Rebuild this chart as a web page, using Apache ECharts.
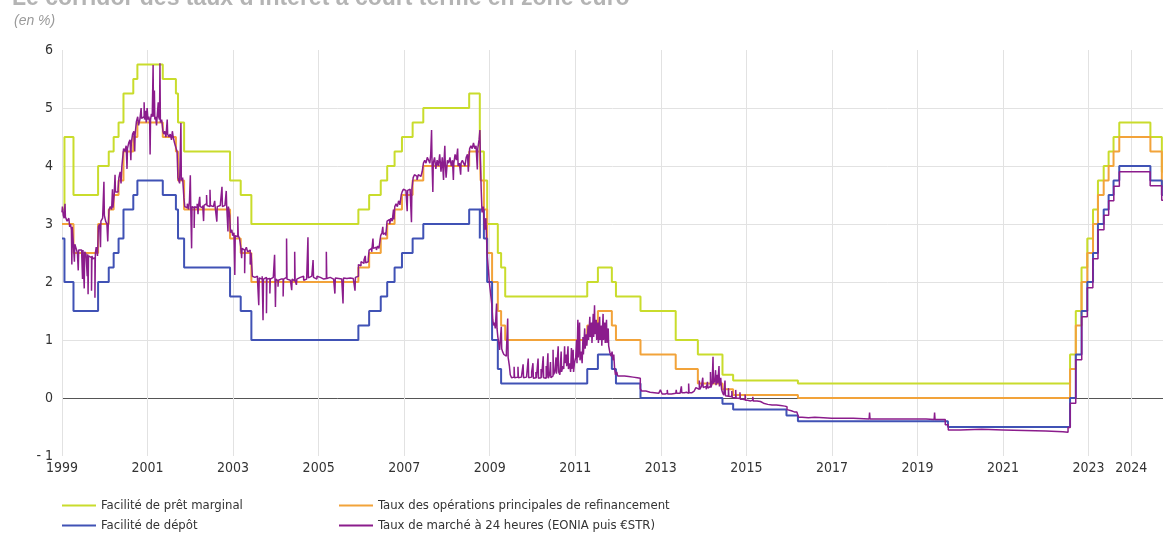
<!DOCTYPE html>
<html>
<head>
<meta charset="utf-8">
<script src="https://cdn.jsdelivr.net/npm/echarts@6/dist/echarts.min.js"></script>
<style>
html,body{margin:0;padding:0;background:#fff;}
#chart{width:1163px;height:535px;}
</style>
</head>
<body>
<div id="chart"></div>
<script>
// ---- Data ----
const titleText = "Le corridor des taux d'intérêt à court terme en zone euro";
const unitText = "(en %)";
const seriesNames = [
  "Facilité de prêt marginal",
  "Taux des opérations principales de refinancement",
  "Facilité de dépôt",
  "Taux de marché à 24 heures (EONIA puis €STR)"
];
const yearTicks = [1999,2001,2003,2005,2007,2009,2011,2013,2015,2017,2019,2021,2023,2024];

// Policy-rate change dates and levels (in %)
const policyDates = [
 '1999-01-01','1999-01-22','1999-04-09','1999-11-05','2000-02-04','2000-03-17','2000-04-28','2000-06-09',
 '2000-09-01','2000-10-06','2001-05-11','2001-08-31','2001-09-18','2001-11-09','2002-12-06','2003-03-07',
 '2003-06-06','2005-12-06','2006-03-08','2006-06-15','2006-08-09','2006-10-11','2006-12-13','2007-03-14',
 '2007-06-13','2008-07-09','2008-10-08','2008-10-09','2008-10-15','2008-11-12','2008-12-10','2009-01-21',
 '2009-03-11','2009-04-08','2009-05-13','2011-04-13','2011-07-13','2011-11-09','2011-12-14','2012-07-11',
 '2013-05-08','2013-11-13','2014-06-11','2014-09-10','2015-12-09','2016-03-16','2019-09-18','2022-07-27',
 '2022-09-14','2022-11-02','2022-12-21','2023-02-08','2023-03-22','2023-05-10','2023-06-21','2023-08-02',
 '2023-09-20','2024-06-12','2024-09-18','2024-09-27'
];
const marginalRate = [
 3.25,4.50,3.50,4.00,4.25,4.50,4.75,5.25,
 5.50,5.75,5.50,5.25,4.75,4.25,3.75,3.50,
 3.00,3.25,3.50,3.75,4.00,4.25,4.50,4.75,
 5.00,5.25,4.75,4.25,4.25,3.75,3.00,3.00,
 2.50,2.25,1.75,2.00,2.25,2.00,1.75,1.50,
 1.00,0.75,0.40,0.30,0.30,0.25,0.25,0.75,
 1.50,2.25,2.75,3.25,3.75,4.00,4.25,4.50,
 4.75,4.50,3.90,3.90
];
const mainRefiRate = [
 3.00,3.00,2.50,3.00,3.25,3.50,3.75,4.25,
 4.50,4.75,4.50,4.25,3.75,3.25,2.75,2.50,
 2.00,2.25,2.50,2.75,3.00,3.25,3.50,3.75,
 4.00,4.25,4.25,4.25,3.75,3.25,2.50,2.00,
 1.50,1.25,1.00,1.25,1.50,1.25,1.00,0.75,
 0.50,0.25,0.15,0.05,0.05,0.00,0.00,0.50,
 1.25,2.00,2.50,3.00,3.50,3.75,4.00,4.25,
 4.50,4.25,3.65,3.65
];
const depositRate = [
 2.75,2.00,1.50,2.00,2.25,2.50,2.75,3.25,
 3.50,3.75,3.50,3.25,2.75,2.25,1.75,1.50,
 1.00,1.25,1.50,1.75,2.00,2.25,2.50,2.75,
 3.00,3.25,2.75,3.25,3.25,2.75,2.00,1.00,
 0.50,0.25,0.25,0.50,0.75,0.50,0.25,0.00,
 0.00,0.00,-0.10,-0.20,-0.30,-0.40,-0.50,0.00,
 0.75,1.50,2.00,2.50,3.00,3.25,3.50,3.75,
 4.00,3.75,3.50,3.50
];

// Overnight market rate [decimal year, %]
const overnight1999_2003 = [
 [1999.00,3.20],[1999.01,3.30],[1999.03,3.15],[1999.05,3.10],[1999.07,3.35],[1999.08,3.12],[1999.12,3.05],[1999.16,3.10],[1999.18,2.95],[1999.20,3.00],[1999.22,2.90],[1999.23,2.30],[1999.24,2.95],[1999.27,2.60],[1999.29,2.35],[1999.30,2.65],[1999.33,2.58],[1999.36,2.50],[1999.38,2.20],[1999.39,2.55],[1999.42,2.55],[1999.46,2.50],[1999.48,2.05],[1999.49,2.55],[1999.52,1.89],[1999.53,2.52],[1999.56,2.48],[1999.59,2.10],[1999.60,2.48],[1999.61,1.79],[1999.62,2.45],[1999.65,2.42],[1999.69,1.85],[1999.70,2.45],[1999.72,2.40],[1999.74,2.42],[1999.77,1.73],[1999.78,2.50],[1999.80,2.60],[1999.83,2.45],[1999.85,2.95],[1999.88,3.00],[1999.90,2.60],[1999.91,3.05],[1999.95,3.10],[1999.98,3.73],[1999.99,3.15],
 [2000.02,3.05],[2000.05,3.00],[2000.07,2.70],[2000.08,2.95],[2000.10,3.25],[2000.13,3.30],[2000.16,3.25],[2000.18,3.60],[2000.19,3.28],[2000.22,3.50],[2000.24,3.85],[2000.25,3.55],[2000.28,3.55],[2000.31,3.60],[2000.33,3.80],[2000.36,3.90],[2000.38,3.70],[2000.40,4.00],[2000.42,4.00],[2000.44,4.30],[2000.47,4.25],[2000.50,4.35],[2000.52,3.95],[2000.53,4.30],[2000.56,4.40],[2000.59,4.45],[2000.61,4.10],[2000.62,4.40],[2000.65,4.55],[2000.68,4.60],[2000.70,4.25],[2000.71,4.55],[2000.74,4.77],[2000.77,4.85],[2000.79,4.70],[2000.82,4.80],[2000.85,5.00],[2000.86,4.82],[2000.89,4.85],[2000.92,5.10],[2000.93,4.80],[2000.95,4.95],[2000.97,4.75],[2000.99,5.00],
 [2001.01,4.80],[2001.03,4.85],[2001.05,4.75],[2001.06,4.20],[2001.07,4.80],[2001.09,4.90],[2001.11,4.85],[2001.13,5.74],[2001.14,4.85],[2001.16,5.30],[2001.17,4.80],[2001.19,4.85],[2001.21,4.70],[2001.23,4.90],[2001.25,5.10],[2001.26,4.85],[2001.28,4.80],[2001.29,5.77],[2001.30,4.75],[2001.33,4.80],[2001.36,4.60],[2001.38,4.55],[2001.40,4.60],[2001.43,4.50],[2001.46,4.80],[2001.47,4.55],[2001.50,4.50],[2001.53,4.55],[2001.56,4.45],[2001.58,4.60],[2001.60,4.50],[2001.63,4.40],[2001.65,4.35],[2001.67,4.30],[2001.69,4.25],[2001.71,3.80],[2001.73,3.75],[2001.75,3.70],[2001.78,4.74],[2001.79,3.75],[2001.82,3.80],[2001.85,3.45],[2001.87,3.30],[2001.90,3.28],[2001.93,3.35],[2001.96,3.25],[2001.98,3.40],
 [2002.00,3.84],[2002.01,3.30],[2002.03,2.58],[2002.04,3.30],[2002.07,3.28],[2002.09,2.93],[2002.10,3.30],[2002.13,3.28],[2002.16,3.35],[2002.18,3.17],[2002.19,3.30],[2002.22,3.47],[2002.23,3.30],[2002.26,3.28],[2002.29,3.32],[2002.31,3.05],[2002.32,3.32],[2002.35,3.35],[2002.38,3.50],[2002.39,3.32],[2002.42,3.30],[2002.46,3.59],[2002.47,3.32],[2002.50,3.30],[2002.54,3.28],[2002.57,3.40],[2002.58,3.30],[2002.62,3.04],[2002.63,3.30],[2002.66,3.32],[2002.70,3.30],[2002.74,3.64],[2002.75,3.30],[2002.78,3.32],[2002.81,3.35],[2002.84,3.57],[2002.85,3.32],[2002.88,2.87],[2002.89,3.30],[2002.92,3.15],[2002.94,2.85],[2002.97,2.90],[2002.99,2.80],
 [2003.02,2.85],[2003.04,2.12],[2003.05,2.80],[2003.08,2.78],[2003.11,3.13],[2003.12,2.80],[2003.15,2.75],[2003.18,2.60],[2003.20,2.41],[2003.21,2.58],[2003.24,2.55],[2003.27,2.15],[2003.28,2.55],[2003.31,2.60],[2003.34,2.52],[2003.37,2.55],[2003.40,2.30],[2003.42,2.50],[2003.45,2.10],[2003.48,2.08],[2003.51,2.05],[2003.54,2.10],[2003.57,2.05],[2003.60,1.60],[2003.61,2.07],[2003.64,2.05],[2003.68,2.10],[2003.70,1.34],[2003.71,2.05],[2003.74,2.08],[2003.78,1.46],[2003.79,2.05],[2003.82,2.06],[2003.86,1.80],[2003.87,2.05],[2003.90,2.08],[2003.94,2.05],[2003.97,2.47],[2003.98,2.05],[2003.99,1.57]
];
const overnight2004_2008 = [
 [2004.00,2.05],[2004.03,2.02],[2004.05,1.92],[2004.06,2.03],[2004.09,2.05],[2004.12,2.02],[2004.15,2.05],[2004.17,1.75],[2004.18,2.05],[2004.22,2.08],[2004.25,2.75],[2004.26,2.05],[2004.30,2.03],[2004.34,2.05],[2004.37,1.86],[2004.38,2.05],[2004.42,2.02],[2004.44,2.52],[2004.45,2.03],[2004.48,1.95],[2004.49,2.05],[2004.53,2.08],[2004.57,2.05],[2004.61,2.10],[2004.65,2.03],[2004.69,2.05],[2004.72,2.08],[2004.75,2.77],[2004.76,2.07],[2004.80,2.10],[2004.84,2.08],[2004.87,2.38],[2004.88,2.08],[2004.92,2.05],[2004.96,2.10],
 [2005.00,2.08],[2005.04,2.06],[2005.08,2.05],[2005.12,2.08],[2005.15,2.06],[2005.18,2.52],[2005.19,2.06],[2005.23,2.08],[2005.27,2.06],[2005.31,2.05],[2005.35,2.08],[2005.38,1.80],[2005.39,2.07],[2005.43,2.06],[2005.47,2.08],[2005.51,2.05],[2005.54,2.07],[2005.57,1.63],[2005.58,2.07],[2005.62,2.06],[2005.66,2.09],[2005.70,2.07],[2005.74,2.08],[2005.78,2.06],[2005.81,2.09],[2005.85,1.85],[2005.86,2.08],[2005.89,2.10],[2005.93,2.30],[2005.96,2.28],[2005.99,2.35],
 [2006.00,2.35],[2006.03,2.32],[2006.06,2.38],[2006.09,2.45],[2006.10,2.33],[2006.13,2.35],[2006.16,2.40],[2006.18,2.55],[2006.21,2.58],[2006.24,2.52],[2006.27,2.75],[2006.28,2.58],[2006.31,2.60],[2006.35,2.55],[2006.38,2.62],[2006.41,2.58],[2006.45,2.80],[2006.48,2.85],[2006.50,2.95],[2006.51,2.82],[2006.54,2.85],[2006.57,2.80],[2006.60,3.05],[2006.63,3.08],[2006.66,3.00],[2006.69,3.10],[2006.72,3.05],[2006.75,3.25],[2006.76,3.08],[2006.78,3.30],[2006.81,3.35],[2006.84,3.30],[2006.87,3.40],[2006.90,3.33],[2006.93,3.50],[2006.95,3.55],[2006.98,3.60],
 [2007.01,3.58],[2007.04,3.55],[2007.07,3.22],[2007.08,3.58],[2007.11,3.60],[2007.14,3.56],[2007.17,3.03],[2007.18,3.60],[2007.21,3.80],[2007.24,3.85],[2007.27,3.82],[2007.30,3.76],[2007.33,3.85],[2007.36,3.82],[2007.39,3.80],[2007.42,3.90],[2007.45,4.05],[2007.48,4.10],[2007.51,4.05],[2007.54,4.15],[2007.57,4.10],[2007.60,4.05],[2007.62,4.20],[2007.64,4.62],[2007.65,4.10],[2007.67,3.55],[2007.68,4.05],[2007.71,4.15],[2007.74,3.95],[2007.77,4.10],[2007.80,4.00],[2007.83,4.20],[2007.86,3.90],[2007.89,4.15],[2007.92,3.76],[2007.93,4.05],[2007.95,4.35],[2007.96,4.05],[2007.98,3.80],
 [2008.01,4.10],[2008.04,4.05],[2008.07,4.15],[2008.10,4.00],[2008.13,4.10],[2008.15,3.76],[2008.16,4.05],[2008.19,4.20],[2008.22,4.10],[2008.25,4.30],[2008.26,4.00],[2008.29,4.05],[2008.32,3.85],[2008.33,4.05],[2008.36,4.10],[2008.39,4.05],[2008.42,4.00],[2008.45,4.15],[2008.48,4.20],[2008.50,3.90],[2008.51,4.10],[2008.53,4.30],[2008.56,4.35],[2008.59,4.30],[2008.62,4.40],[2008.65,4.30],[2008.68,4.35],[2008.71,3.94],[2008.72,4.30],[2008.75,4.45],[2008.77,4.62],[2008.78,4.20],[2008.80,3.60],[2008.82,3.20],[2008.85,3.30],[2008.88,2.90],[2008.91,3.10],[2008.94,2.45],[2008.97,2.20],[2008.99,2.00]
];
const overnight2009_2014 = [
 [2009.02,1.80],[2009.05,1.60],[2009.07,1.35],[2009.09,1.25],[2009.11,1.30],[2009.13,1.20],[2009.16,1.63],[2009.17,1.20],[2009.19,1.05],[2009.21,0.95],[2009.23,0.83],[2009.25,0.80],[2009.27,1.23],[2009.28,0.85],[2009.30,0.80],[2009.33,0.75],[2009.36,0.72],[2009.39,0.80],[2009.42,1.37],[2009.43,0.70],[2009.46,0.55],[2009.48,0.40],[2009.51,0.35],[2009.54,0.36],[2009.57,0.54],[2009.58,0.35],[2009.62,0.36],[2009.66,0.54],[2009.67,0.35],[2009.70,0.36],[2009.74,0.34],[2009.78,0.58],[2009.79,0.35],[2009.82,0.36],[2009.86,0.34],[2009.90,0.68],[2009.91,0.35],[2009.95,0.36],[2009.98,0.45],
 [2010.01,0.60],[2010.02,0.34],[2010.05,0.35],[2010.08,0.45],[2010.09,0.34],[2010.13,0.68],[2010.14,0.34],[2010.17,0.35],[2010.20,0.50],[2010.21,0.35],[2010.25,0.72],[2010.26,0.35],[2010.29,0.34],[2010.32,0.55],[2010.33,0.35],[2010.36,0.77],[2010.37,0.34],[2010.40,0.40],[2010.42,0.62],[2010.43,0.35],[2010.46,0.38],[2010.48,0.83],[2010.49,0.40],[2010.52,0.45],[2010.55,0.70],[2010.56,0.42],[2010.60,0.89],[2010.61,0.45],[2010.64,0.40],[2010.67,0.80],[2010.68,0.45],[2010.71,0.55],[2010.73,0.50],[2010.75,0.89],[2010.76,0.60],[2010.79,0.75],[2010.80,0.55],[2010.83,0.89],[2010.84,0.50],[2010.87,0.60],[2010.89,0.45],[2010.91,0.86],[2010.92,0.50],[2010.95,0.83],[2010.96,0.45],[2010.98,0.60],
 [2011.01,0.70],[2011.03,1.00],[2011.04,0.60],[2011.06,1.35],[2011.07,0.70],[2011.10,1.30],[2011.11,0.65],[2011.14,0.80],[2011.16,0.60],[2011.18,1.05],[2011.19,0.75],[2011.22,1.20],[2011.23,0.85],[2011.26,1.10],[2011.27,0.90],[2011.30,1.25],[2011.31,1.00],[2011.34,1.40],[2011.35,1.05],[2011.38,1.30],[2011.39,0.95],[2011.42,1.45],[2011.43,1.05],[2011.45,1.60],[2011.46,1.10],[2011.49,1.35],[2011.50,1.00],[2011.53,1.30],[2011.54,0.95],[2011.57,1.40],[2011.58,1.00],[2011.61,1.25],[2011.62,0.90],[2011.65,1.45],[2011.66,1.00],[2011.69,1.30],[2011.70,0.95],[2011.73,1.35],[2011.74,0.95],[2011.77,1.20],[2011.78,0.90],[2011.81,0.78],[2011.84,0.72],[2011.86,0.80],[2011.88,0.65],[2011.90,0.75],[2011.92,0.50],[2011.94,0.40],[2011.97,0.45],[2011.99,0.38],
 [2012.05,0.38],[2012.15,0.37],[2012.25,0.36],[2012.35,0.35],[2012.45,0.34],[2012.52,0.16],[2012.55,0.12],[2012.65,0.10],[2012.75,0.09],[2012.85,0.08],[2012.95,0.07],[2012.99,0.14],
 [2013.03,0.07],[2013.10,0.08],[2013.15,0.14],[2013.16,0.07],[2013.25,0.08],[2013.35,0.08],[2013.36,0.14],[2013.37,0.08],[2013.45,0.09],[2013.48,0.20],[2013.49,0.09],[2013.55,0.10],[2013.60,0.08],[2013.65,0.25],[2013.66,0.09],[2013.72,0.12],[2013.78,0.10],[2013.82,0.18],[2013.86,0.15],[2013.90,0.30],[2013.91,0.15],[2013.95,0.20],[2013.98,0.35],[2013.99,0.18],
 [2014.03,0.20],[2014.06,0.15],[2014.09,0.28],[2014.10,0.17],[2014.13,0.20],[2014.16,0.45],[2014.17,0.18],[2014.20,0.25],[2014.22,0.71],[2014.23,0.25],[2014.26,0.30],[2014.28,0.48],[2014.29,0.22],[2014.32,0.40],[2014.33,0.25],[2014.36,0.55],[2014.37,0.20],[2014.40,0.35],[2014.42,0.15],[2014.44,0.10],[2014.47,0.05],[2014.50,0.30],[2014.51,0.04],[2014.55,0.03],[2014.58,0.17],[2014.59,0.03],[2014.63,0.02],[2014.66,0.12],[2014.67,0.01],[2014.71,0.00],[2014.75,0.14],[2014.76,0.00],[2014.80,-0.01],[2014.85,0.10],[2014.86,-0.02],[2014.92,-0.03],[2014.97,0.06],[2014.98,-0.04]
];
const overnight2015_2024 = [
 [2015.03,-0.05],[2015.10,-0.04],[2015.15,0.02],[2015.16,-0.05],[2015.25,-0.06],[2015.33,-0.09],[2015.40,-0.11],[2015.50,-0.12],[2015.60,-0.12],[2015.70,-0.13],[2015.80,-0.14],[2015.90,-0.15],[2015.95,-0.20],[2015.99,-0.22],
 [2016.05,-0.24],[2016.12,-0.24],[2016.18,-0.27],[2016.22,-0.33],[2016.30,-0.34],[2016.45,-0.33],[2016.60,-0.34],[2016.80,-0.35],[2016.99,-0.35],
 [2017.20,-0.35],[2017.50,-0.36],[2017.87,-0.36],[2017.88,-0.25],[2017.89,-0.36],[2018.20,-0.36],[2018.60,-0.36],[2018.99,-0.36],[2019.20,-0.37],[2019.39,-0.37],[2019.40,-0.25],[2019.41,-0.37],[2019.60,-0.37],[2019.65,-0.46],[2019.72,-0.55],
 [2020.00,-0.54],[2020.50,-0.55],[2021.00,-0.56],[2021.50,-0.57],[2022.00,-0.58],[2022.40,-0.59],[2022.52,-0.51],[2022.57,-0.09],
 [2022.70,0.66],[2022.84,1.40],[2022.97,1.90],[2023.10,2.40],[2023.22,2.90],[2023.36,3.15],[2023.47,3.40],[2023.59,3.65],[2023.72,3.90],
 [2024.44,3.66],[2024.71,3.41],[2024.74,3.41]
];

// ---- Helpers ----
function dy(s) {
  const p = s.split('-').map(Number);
  const start = Date.UTC(p[0], 0, 1), end = Date.UTC(p[0] + 1, 0, 1);
  return p[0] + (Date.UTC(p[0], p[1] - 1, p[2]) - start) / (end - start);
}
function steps(vals) { return policyDates.map((d, i) => [dy(d), vals[i]]); }
const overnight = [].concat(overnight1999_2003, overnight2004_2008, overnight2009_2014, overnight2015_2024);

const FONT = '"Liberation Sans Narrow","DejaVu Sans Condensed","Liberation Sans",sans-serif';
const colors = { marginal: '#c9dc2c', mro: '#f2a33a', deposit: '#4052b5', market: '#8b1c8c' };

const legendBase = {
  orient: 'vertical', top: 498, padding: 0, height: 40,
  icon: 'rect', itemWidth: 34, itemHeight: 2, itemGap: 5,
  textStyle: { fontFamily: FONT, fontSize: 13, color: '#333', lineHeight: 15 }, selectedMode: false
};

const chart = echarts.init(document.getElementById('chart'), null, { renderer: 'canvas' });
chart.setOption({
  animation: false,
  backgroundColor: '#ffffff',
  title: [
    { text: unitText, left: 9, top: 9,
      textStyle: { fontFamily: '"Liberation Sans",Arial,sans-serif', fontSize: 14, fontStyle: 'italic', fontWeight: 'normal', color: '#9a9a9a' } }
  ],
  graphic: [
    { type: 'text', x: 12, y: 10, silent: true,
      style: { text: titleText, fill: '#b4b4b4', verticalAlign: 'bottom', align: 'left',
        font: 'bold 23px "Liberation Sans", Arial, sans-serif' } }
  ],
  grid: { left: 62, right: 0, top: 50, bottom: 79, containLabel: false },
  legend: [
    Object.assign({}, legendBase, { data: [seriesNames[0], seriesNames[2]], left: 62 }),
    Object.assign({}, legendBase, { data: [seriesNames[1], seriesNames[3]], left: 339 })
  ],
  xAxis: {
    type: 'value', min: 1999, max: 2024.74,
    axisLine: { show: false },
    axisTick: { show: false, customValues: yearTicks },
    axisLabel: { customValues: yearTicks, margin: 5, fontFamily: FONT, fontSize: 14, color: '#333',
      formatter: v => String(Math.round(v)) },
    splitLine: { show: true, lineStyle: { color: '#e2e2e2', width: 1 } }
  },
  yAxis: {
    type: 'value', min: -1, max: 6, interval: 1,
    axisLine: { show: false }, axisTick: { show: false },
    axisLabel: { margin: 9, fontFamily: FONT, fontSize: 14, color: '#333',
      formatter: v => v < 0 ? '- ' + (-v) : String(v) },
    splitLine: { show: true, lineStyle: {
      color: ['rgba(0,0,0,0)', '#555555', '#e2e2e2', '#e2e2e2', '#e2e2e2', '#e2e2e2', '#e2e2e2', 'rgba(0,0,0,0)'],
      width: 1 } }
  },
  series: [
    { name: seriesNames[0], type: 'line', step: 'end', data: steps(marginalRate), showSymbol: false, symbol: 'none',
      lineStyle: { color: colors.marginal, width: 2 }, itemStyle: { color: colors.marginal }, z: 2 },
    { name: seriesNames[1], type: 'line', step: 'end', data: steps(mainRefiRate), showSymbol: false, symbol: 'none',
      lineStyle: { color: colors.mro, width: 2 }, itemStyle: { color: colors.mro }, z: 3 },
    { name: seriesNames[2], type: 'line', step: 'end', data: steps(depositRate), showSymbol: false, symbol: 'none',
      lineStyle: { color: colors.deposit, width: 2 }, itemStyle: { color: colors.deposit }, z: 4 },
    { name: seriesNames[3], type: 'line', step: 'end', data: overnight, showSymbol: false, symbol: 'none',
      lineStyle: { color: colors.market, width: 1.5 }, itemStyle: { color: colors.market }, z: 5 }
  ]
});
</script>
</body>
</html>
